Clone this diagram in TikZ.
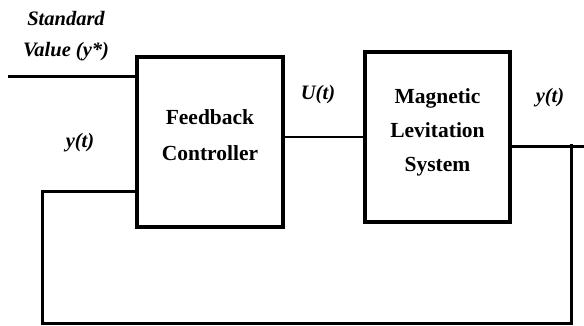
\documentclass[tikz,border=0pt]{standalone}
\usepackage{fontspec}
\setmainfont{Liberation Serif}
\begin{document}
\begin{tikzpicture}[x=1pt,y=-1pt,
  block/.style={draw,line width=3.2pt,minimum width=146pt,minimum height=170pt,inner sep=0pt},
  wire/.style={line width=3pt},
  thinwire/.style={line width=2.6pt},
  blocktext/.style={align=center,font=\fontsize{21.5}{36}\selectfont\bfseries},
  sig/.style={font=\fontsize{20.5}{22}\selectfont\bfseries\itshape}]
\useasboundingbox (0,0) rectangle (584,325);

% blocks
\node[block] (fb) at (210,142) {};
\node[blocktext] (fbtext) at ([yshift=7pt]fb.center) {Feedback\\Controller};
\node[block,minimum width=145pt] (ml) at (437.5,137) {};
\node[blocktext,font=\fontsize{21.5}{34}\selectfont\bfseries] (mltext) at ([yshift=5pt]ml.center) {Magnetic\\Levitation\\System};

% signal labels
\node[sig] (std) at (66,18) {Standard};
\node[sig] (val) at (66,52) {Value (y*)};
\node[sig] (yfb) at (80,143) {y(t)};
\node[sig] (ut) at (318,95) {U(t)};
\node[sig] (yout) at (550,98) {y(t)};

% wiring points
\coordinate (in) at (8,76);
\coordinate (u) at (324,137);
\coordinate (outend) at (584,146);
\coordinate (tap) at (571,144);
\coordinate (tapbot) at (571,323);
\coordinate (leftbot) at (42,323);
\coordinate (lefttop) at (42,191);

% connectors
\draw[wire] (in) -- (fb.west |- in);
\draw[thinwire] (fb.east |- u) -- (ml.west |- u);
\draw[wire] (ml.east |- outend) -- (outend);
\draw[wire] (tap) -- (tapbot) -- (leftbot) -- (lefttop) -- (fb.west |- lefttop);
\end{tikzpicture}
\end{document}
